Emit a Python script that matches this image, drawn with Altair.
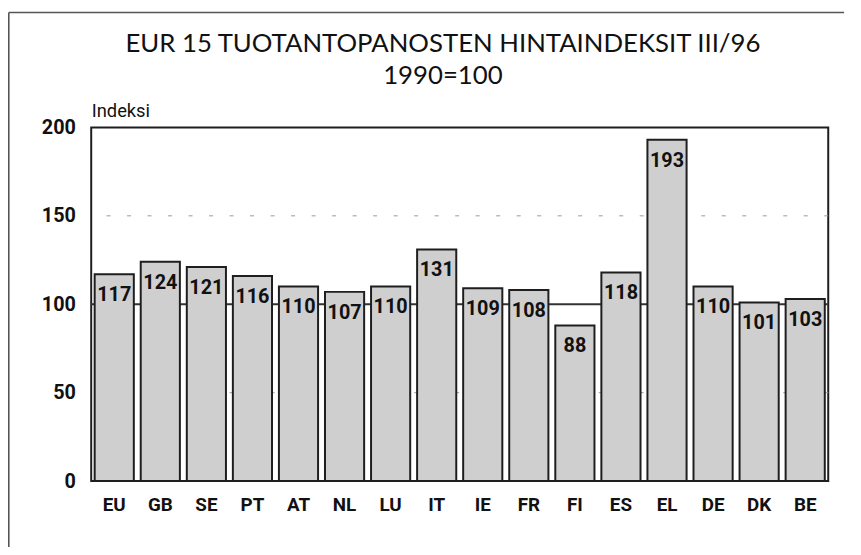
import altair as alt
import pandas as pd

countries = ["EU", "GB", "SE", "PT", "AT", "NL", "LU", "IT", "IE", "FR", "FI", "ES", "EL", "DE", "DK", "BE"]
values = [117, 124, 121, 116, 110, 107, 110, 131, 109, 108, 88, 118, 193, 110, 101, 103]
y_ticks = [0, 50, 100, 150, 200]
dashed_levels = [50, 150]
base_level = [100]

title_line1 = "EUR 15 TUOTANTOPANOSTEN HINTAINDEKSIT III/96"
title_line2 = "1990=100"
y_title = "Indeksi"

COND = "Roboto, Liberation Sans Narrow, DejaVu Sans Condensed, sans-serif"
TITLE_FONT = "Lato, Open Sans, DejaVu Sans, sans-serif"

bars_df = pd.DataFrame({"country": countries, "value": values})
dash_df = pd.DataFrame({"level": dashed_levels})
base_df = pd.DataFrame({"level": base_level})
one_df = pd.DataFrame({"t1": [title_line1], "t2": [title_line2]})

yscale = alt.Scale(domain=[0, 200], nice=False)
xscale = alt.Scale(paddingInner=0.15, paddingOuter=0.075)

y_axis = alt.Axis(
    values=y_ticks, title=y_title, titleAngle=0, titleAlign="left", titleBaseline="alphabetic",
    titleX=0, titleY=-11, titleFont=COND, titleFontSize=18.5, titleFontWeight="normal",
    titleColor="#111", labelFont=COND, labelFontSize=20, labelFontWeight="bold",
    labelColor="#111", labelPadding=16, ticks=False, tickSize=0, domain=False, grid=False,
)
x_axis = alt.Axis(
    title=None, labelAngle=0, labelFont=COND, labelFontSize=19, labelFontWeight="bold",
    labelColor="#111", labelPadding=15, ticks=False, tickSize=0, domain=False, grid=False,
)

frame_top = alt.Chart(one_df).mark_rule(color="#555", strokeWidth=1.6, clip=False).encode(
    x=alt.value(-83.2), x2=alt.value(760), y=alt.value(-116)
)
frame_left = alt.Chart(one_df).mark_rule(color="#555", strokeWidth=1.6, clip=False).encode(
    x=alt.value(-83.2), y=alt.value(-116), y2=alt.value(500)
)

title1 = alt.Chart(one_df).mark_text(
    font=TITLE_FONT, fontSize=26, color="#111", align="center", baseline="alphabetic", clip=False
).encode(x=alt.value(355), y=alt.value(-76), text="t1:N")

title2 = alt.Chart(one_df).mark_text(
    font=TITLE_FONT, fontSize=26, color="#111", align="center", baseline="alphabetic", clip=False
).encode(x=alt.value(355), y=alt.value(-44), text="t2:N")

grid = alt.Chart(dash_df).mark_rule(color="#999", strokeWidth=1, strokeDash=[4, 16.7]).encode(
    y=alt.Y("level:Q", scale=yscale, axis=y_axis)
)

base = alt.Chart(base_df).mark_rule(color="#333", strokeWidth=2.2).encode(
    y=alt.Y("level:Q", scale=yscale)
)

bars = alt.Chart(bars_df).mark_bar(fill="#cfcfcf", stroke="#1e1e1e", strokeWidth=2).encode(
    x=alt.X("country:N", sort=countries, scale=xscale, axis=x_axis),
    y=alt.Y("value:Q", scale=yscale),
)

labels = alt.Chart(bars_df).mark_text(
    font=COND, fontSize=20, fontWeight="bold", color="#111", baseline="alphabetic", dy=27
).encode(
    x=alt.X("country:N", sort=countries, scale=xscale),
    y=alt.Y("value:Q", scale=yscale),
    text=alt.Text("value:Q"),
)

chart = alt.layer(frame_top, frame_left, title1, title2, grid, base, bars, labels).properties(
    width=744,
    height=357,
    padding={"left": 84, "top": 118, "right": 25, "bottom": 64},
    autosize=alt.AutoSizeParams(type="none"),
).configure_view(stroke="#1e1e1e", strokeWidth=2)

chart.save("out.html", embed_options={"renderer": "svg", "actions": False})
